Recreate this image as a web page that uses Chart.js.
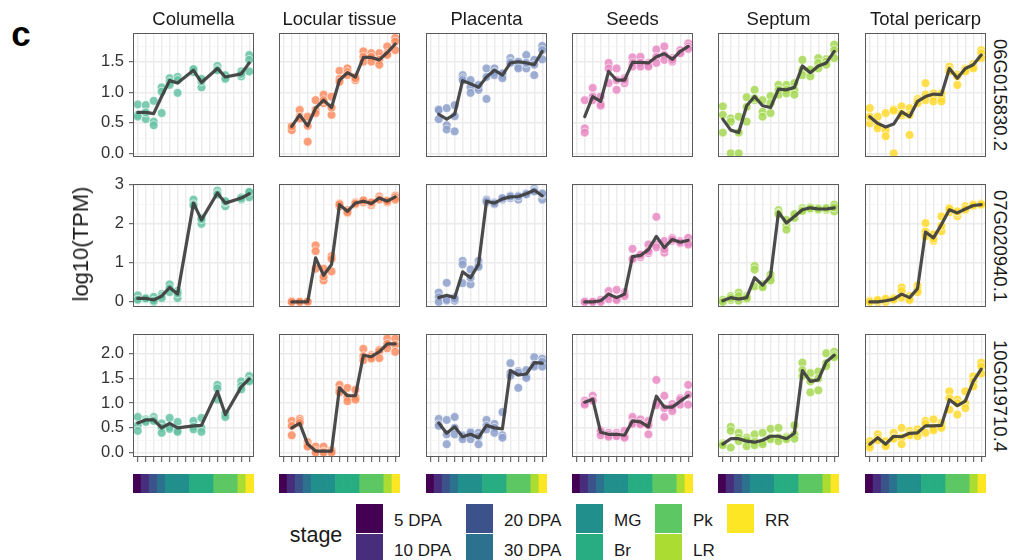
<!DOCTYPE html>
<html>
<head>
<meta charset="utf-8">
<script src="https://cdn.jsdelivr.net/npm/chart.js@4.4.1/dist/chart.umd.min.js"></script>
<style>
  body { margin: 0; background: #fff; font-family: "Liberation Sans", Arial, sans-serif; }
  #fig { position: relative; width: 1015px; height: 560px; overflow: hidden; }
  #fig canvas { position: absolute; }
  .txt { position: absolute; color: #1a1a1a; white-space: nowrap; z-index: 2; line-height: 1; }
  .key { position: absolute; width: 27px; height: 29px; }
</style>
</head>
<body>
<div id="fig"></div>
<script>
// facets
const tissues = ['Columella', 'Locular tissue', 'Placenta', 'Seeds', 'Septum', 'Total pericarp'];
const tissueColors = ['#66C2A5', '#FC8D62', '#8DA0CB', '#E78AC3', '#A6D854', '#FFD92F'];
const genes = ['06G015830.2', '07G020940.1', '10G019710.4'];

// sampling points along the x axis and their stage
const positions = [1, 2, 3, 4, 5, 6, 7, 8, 9, 10, 11, 12, 13, 14, 15];
const stageOfPosition = ['5 DPA', '10 DPA', '20 DPA', '30 DPA', 'MG', 'MG', 'MG', 'Br', 'Br', 'Br', 'Pk', 'Pk', 'Pk', 'LR', 'RR'];
const stageBand = [1, 1, 1, 1, 1, 1, 1, 1, 1, 1, 1, 1, 1, 1, 1];
const stageNames = ['5 DPA', '10 DPA', '20 DPA', '30 DPA', 'MG', 'Br', 'Pk', 'LR', 'RR'];
const stageColors = ['#440154', '#472D7B', '#3B528B', '#2C728E', '#21908C', '#27AD81', '#5DC863', '#AADC32', '#FDE725'];

// y axes, one per gene row
const yRange06 = [-0.06, 1.97];
const yRange07 = [-0.13, 3.02];
const yRange10 = [-0.09, 2.40];
const yMajor06 = [0, 0.5, 1, 1.5];
const yMajor07 = [0, 1, 2, 3];
const yMajor10 = [0, 0.5, 1, 1.5, 2];
const yLabels06 = ['0.0', '0.5', '1.0', '1.5'];
const yLabels07 = ['0', '1', '2', '3'];
const yLabels10 = ['0.0', '0.5', '1.0', '1.5', '2.0'];
const yMinor06 = [0.25, 0.75, 1.25, 1.75];
const yMinor07 = [0.5, 1.5, 2.5];
const yMinor10 = [0.25, 0.75, 1.25, 1.75, 2.25];

// mean line, one row per tissue (null = not sampled)
const mean06 = [
  [0.67, 0.67, 0.65, 0.93, 1.19, 1.15, null, 1.36, 1.16, null, 1.39, 1.25, null, 1.30, 1.48],
  [null, 0.44, 0.63, 0.45, 0.74, 0.87, 0.75, 1.20, 1.32, 1.25, 1.57, 1.57, 1.53, 1.65, 1.79],
  [null, 0.64, 0.56, 0.64, 1.19, 1.14, 1.08, 1.25, 1.36, 1.28, 1.48, 1.50, 1.48, 1.45, 1.67],
  [null, 0.60, 0.93, 0.85, 1.34, 1.20, 1.20, 1.49, 1.49, 1.48, 1.58, 1.63, 1.54, 1.67, 1.75],
  [0.56, 0.38, 0.34, 0.78, 0.93, 0.78, 0.75, 1.05, 1.04, 1.08, 1.43, 1.32, 1.43, 1.48, 1.67],
  [0.60, 0.49, 0.43, 0.48, 0.68, 0.60, 0.85, 0.93, 0.97, 0.96, 1.39, 1.23, 1.39, 1.45, 1.61]
];
const mean07 = [
  [0.09, 0.09, 0.05, 0.15, 0.37, 0.20, null, 2.53, 2.10, null, 2.79, 2.53, null, 2.66, 2.77],
  [null, 0.00, 0.00, 0.00, 1.13, 0.68, 0.96, 2.49, 2.32, 2.53, 2.58, 2.52, 2.66, 2.58, 2.69],
  [null, 0.11, 0.17, 0.11, 0.77, 0.62, 0.96, 2.58, 2.53, 2.64, 2.69, 2.70, 2.77, 2.86, 2.72],
  [null, 0.00, 0.00, 0.03, 0.20, 0.11, 0.20, 1.16, 1.19, 1.34, 1.68, 1.39, 1.60, 1.53, 1.58],
  [0.03, 0.11, 0.07, 0.11, 0.62, 0.43, 0.66, 2.30, 2.02, 2.19, 2.36, 2.41, 2.38, 2.38, 2.41],
  [0.00, 0.00, 0.03, 0.07, 0.20, 0.11, 0.34, 1.79, 1.64, 1.98, 2.36, 2.28, 2.38, 2.47, 2.49]
];
const mean10 = [
  [0.60, 0.66, 0.66, 0.50, 0.59, 0.50, null, 0.54, 0.55, null, 1.24, 0.77, null, 1.33, 1.49],
  [null, 0.50, 0.59, 0.17, 0.03, 0.03, 0.03, 1.31, 1.15, 1.15, 1.97, 1.94, 2.04, 2.20, 2.20],
  [null, 0.60, 0.39, 0.52, 0.32, 0.37, 0.30, 0.55, 0.50, 0.48, 1.66, 1.57, 1.59, 1.82, 1.81],
  [null, 1.02, 1.08, 0.41, 0.37, 0.37, 0.35, 0.64, 0.62, 0.52, 1.14, 0.92, 0.92, 1.04, 1.15],
  [0.17, 0.28, 0.28, 0.23, 0.21, 0.25, 0.33, 0.33, 0.28, 0.39, 1.66, 1.44, 1.47, 1.84, 1.97],
  [0.17, 0.30, 0.17, 0.33, 0.32, 0.39, 0.40, 0.54, 0.54, 0.55, 1.07, 0.95, 1.04, 1.44, 1.69]
];

// replicate samples at each sampling point, one row per tissue
const reps06 = [
  [[0.80,0.63,0.60],[0.79,0.56,0.67],[0.86,0.52,0.46],[1.08,1.01,0.66],[1.23,1.17,1.12],[1.25,0.99,1.20],null,[1.36,1.33,1.38],[1.08,1.18,1.22],null,[1.43,1.38,1.36],[1.25,1.28,1.22],null,[1.26,1.34,1.30],[1.61,1.53,1.34]],
  [null,[0.41,0.38,0.44],[0.71,0.60,0.57],[0.60,0.19,0.45],[0.87,0.71,0.66],[0.96,0.82,0.87],[0.93,0.63,0.75],[1.35,1.22,1.17],[1.39,1.33,1.28],[1.25,1.20,1.23],[1.67,1.58,1.50],[1.64,1.58,1.50],[1.64,1.53,1.45],[1.75,1.64,1.61],[1.89,1.83,1.69]],
  [null,[0.72,0.56,0.71],[0.74,0.46,0.39],[0.79,0.61,0.36],[1.28,1.23,1.20],[1.20,1.08,0.99],[1.08,1.04,1.12],[1.39,1.25,0.89],[1.39,1.33,1.28],[1.28,1.31,1.23],[1.56,1.50,1.48],[1.50,1.42,1.39],[1.61,1.39,1.48],[1.53,1.28,1.45],[1.76,1.69,1.54]],
  [null,[0.87,0.41,0.34],[1.07,0.93,0.87],[0.93,0.81,0.78],[1.48,1.39,1.15],[1.39,1.20,1.04],[1.23,1.15,1.20],[1.57,1.48,1.42],[1.58,1.48,1.42],[1.48,1.45,1.42],[1.70,1.58,1.48],[1.75,1.61,1.53],[1.56,1.50,1.53],[1.69,1.64,1.64],[1.80,1.75,1.71]],
  [[0.77,0.63,0.34],[0.57,0.52,0.00],[0.60,0.34,0.00],[0.92,0.76,0.52],[1.04,0.87,0.90],[0.87,0.68,0.60],[0.94,0.82,0.66],[1.12,1.04,0.96],[1.12,1.04,0.98],[1.15,1.04,0.96],[1.53,1.37,1.28],[1.34,1.26,1.37],[1.56,1.48,1.39],[1.54,1.50,1.45],[1.78,1.69,1.56]],
  [[0.74,0.49,0.60],[0.60,0.46,0.41],[0.66,0.38,0.28],[0.72,0.70,0.00],[0.77,0.62,0.65],[0.74,0.30,0.63],[0.89,0.85,0.82],[1.15,0.96,0.87],[0.98,0.93,0.85],[0.98,0.90,0.85],[1.42,1.37,1.34],[1.29,1.12,1.26],[1.39,1.37,1.34],[1.46,1.42,1.39],[1.69,1.64,1.56]]
];
const reps07 = [
  [[0.17,0.05,0.06],[0.10,0.08,0.09],[0.13,0.00,0.03],[0.20,0.15,0.10],[0.45,0.35,0.25],[0.28,0.10,0.22],null,[2.62,2.50,2.47],[2.00,2.15,2.12],null,[2.85,2.78,2.75],[2.45,2.55,2.58],null,[2.62,2.68,2.65],[2.80,2.68,2.82]],
  [null,[0.02,0.00,0.00],[0.00,0.00,0.00],[0.00,0.00,0.01],[1.45,1.30,0.85],[0.85,0.55,0.65],[1.17,1.10,0.78],[2.52,2.45,2.50],[2.28,2.35,2.30],[2.55,2.50,2.52],[2.58,2.55,2.60],[2.48,2.52,2.55],[2.70,2.65,2.62],[2.60,2.55,2.58],[2.72,2.68,2.62]],
  [null,[0.24,0.12,0.00],[0.49,0.03,0.05],[0.03,0.12,0.08],[1.05,0.96,0.48],[0.83,0.45,0.62],[1.05,0.95,0.90],[2.62,2.55,2.58],[2.50,2.55,2.52],[2.65,2.62,2.66],[2.72,2.66,2.70],[2.62,2.72,2.70],[2.78,2.75,2.76],[2.90,2.85,2.83],[2.62,2.75,2.78]],
  [null,[0.02,0.00,0.00],[0.00,0.01,0.00],[0.03,0.05,0.00],[0.28,0.15,0.07],[0.31,0.07,0.05],[0.25,0.20,0.15],[1.36,1.09,1.10],[1.22,1.15,1.20],[1.47,1.25,1.30],[2.18,1.47,1.40],[1.56,1.26,1.35],[1.64,1.56,1.60],[1.56,1.50,1.53],[1.64,1.51,1.47]],
  [[0.03,0.05,0.00],[0.15,0.05,0.10],[0.24,0.03,0.15],[0.15,0.08,0.10],[0.92,0.83,0.40],[0.45,0.40,0.38],[0.70,0.62,0.55],[2.35,2.28,2.25],[1.96,1.85,2.10],[2.20,2.15,2.25],[2.40,2.35,2.33],[2.42,2.38,2.40],[2.40,2.36,2.38],[2.38,2.36,2.40],[2.49,2.32,2.42]],
  [[0.00,0.03,0.00],[0.02,0.00,0.05],[0.05,0.00,0.08],[0.10,0.05,0.07],[0.37,0.28,0.11],[0.15,0.08,0.05],[0.42,0.32,0.25],[2.02,1.80,1.68],[1.73,1.56,1.62],[2.19,1.81,1.95],[2.40,2.30,2.38],[2.20,2.28,2.32],[2.45,2.35,2.38],[2.50,2.45,2.48],[2.52,2.48,2.50]]
];
const reps10 = [
  [[0.72,0.55,0.44],[0.67,0.64,0.62],[0.72,0.67,0.64],[0.59,0.50,0.40],[0.70,0.52,0.48],[0.62,0.45,0.42],null,[0.64,0.52,0.47],[0.70,0.50,0.42],null,[1.37,1.30,1.07],[0.80,0.78,0.72],null,[1.44,1.35,1.28],[1.55,1.47,1.44]],
  [null,[0.64,0.54,0.35],[0.68,0.64,0.60],[0.21,0.15,0.12],[0.12,0.03,0.00],[0.12,0.02,0.00],[0.05,0.03,0.00],[1.37,1.27,1.22],[1.31,1.12,1.04],[1.27,1.12,1.07],[2.10,1.95,1.87],[1.97,1.94,1.90],[2.08,2.05,1.91],[2.31,2.20,2.11],[2.31,2.18,2.04]],
  [null,[0.68,0.57,0.54],[0.66,0.37,0.17],[0.72,0.50,0.37],[0.35,0.33,0.27],[0.42,0.40,0.27],[0.40,0.33,0.17],[0.66,0.54,0.47],[0.58,0.50,0.40],[0.82,0.35,0.30],[1.81,1.61,1.55],[1.65,1.62,1.31],[1.67,1.55,1.51],[1.93,1.78,1.74],[1.90,1.84,1.74]],
  [null,[1.05,1.00,0.97],[1.15,1.07,1.05],[0.45,0.42,0.35],[0.40,0.36,0.32],[0.40,0.36,0.33],[0.44,0.33,0.30],[0.72,0.60,0.58],[0.67,0.60,0.57],[0.64,0.55,0.37],[1.47,1.00,0.96],[1.15,0.90,0.72],[0.98,0.92,0.84],[1.10,1.07,0.97],[1.37,1.17,0.97]],
  [[0.19,0.17,0.15],[0.52,0.44,0.10],[0.40,0.30,0.23],[0.30,0.25,0.13],[0.37,0.22,0.15],[0.40,0.20,0.17],[0.48,0.30,0.27],[0.50,0.30,0.23],[0.32,0.30,0.27],[0.55,0.37,0.28],[1.82,1.67,1.55],[1.61,1.44,1.22],[1.64,1.50,1.26],[2.01,1.81,1.75],[2.04,1.97,1.93]],
  [[0.23,0.17,0.10],[0.37,0.30,0.25],[0.23,0.15,0.13],[0.40,0.30,0.28],[0.50,0.30,0.17],[0.44,0.38,0.35],[0.47,0.40,0.33],[0.64,0.58,0.40],[0.67,0.50,0.45],[0.60,0.55,0.50],[1.24,1.10,0.87],[1.07,1.00,0.77],[1.24,1.00,0.90],[1.54,1.44,1.34],[1.82,1.74,1.60]]
];

const rows = [
  { mean: mean06, reps: reps06, range: yRange06, major: yMajor06, minor: yMinor06, labels: yLabels06 },
  { mean: mean07, reps: reps07, range: yRange07, major: yMajor07, minor: yMinor07, labels: yLabels07 },
  { mean: mean10, reps: reps10, range: yRange10, major: yMajor10, minor: yMinor10, labels: yLabels10 }
];

// layout (px)
const panelLeft = [133, 279, 426, 572, 718, 865];
const panelTop = [33, 184, 334];
const panelH = [124, 123, 123];
const panelW = 121;
const FONT = '"Liberation Sans", Arial, sans-serif';

Chart.defaults.font.family = FONT;

const fig = document.getElementById('fig');

function hexA(hex, a) {
    const n = parseInt(hex.slice(1), 16);
    return `rgba(${n >> 16}, ${(n >> 8) & 255}, ${n & 255}, ${a})`;
}

// panel border drawn over the plot area, like ggplot's panel.border
const framePlugin = {
    id: 'frame',
    afterDraw(chart) {
        const a = chart.chartArea, c = chart.ctx;
        c.save();
        c.strokeStyle = '#5a5a5a';
        c.lineWidth = 1;
        c.strokeRect(Math.round(a.left) + 0.5, Math.round(a.top) + 0.5,
            Math.round(a.right - a.left) - 1, Math.round(a.bottom - a.top) - 1);
        c.restore();
    }
};

function addCanvas(left, top, w, h) {
    const cv = document.createElement('canvas');
    cv.width = w;
    cv.height = h;
    cv.style.left = left + 'px';
    cv.style.top = top + 'px';
    cv.style.width = w + 'px';
    cv.style.height = h + 'px';
    fig.appendChild(cv);
    return cv;
}

function makePanel(r, k) {
    const row = rows[r];
    // extra room around the first column so the tick labels are not cut
    const lm = k === 0 ? 60 : 1;
    const tm = k === 0 ? 12 : 1;
    const bm = k === 0 ? 12 : (r === 2 ? 8 : 1);
    const w = lm + panelW + 1, h = tm + panelH[r] + bm;
    const cv = addCanvas(panelLeft[k] - lm, panelTop[r] - tm, w, h);

    const pts = [];
    row.reps[k].forEach((trip, i) => {
        if (trip) trip.forEach(v => pts.push({ x: positions[i], y: v }));
    });
    const line = row.mean[k].map((v, i) => ({ x: positions[i], y: v }));
    const yTicks = row.major.concat(row.minor).sort((a, b) => a - b);

    new Chart(cv, {
        type: 'scatter',
        data: {
            datasets: [
                {
                    data: line,
                    showLine: true,
                    spanGaps: true,
                    borderColor: 'rgba(60, 60, 60, 0.92)',
                    borderWidth: 3.2,
                    borderCapStyle: 'round',
                    borderJoinStyle: 'round',
                    pointRadius: 0,
                    order: 0,
                    clip: 0
                },
                {
                    data: pts,
                    backgroundColor: hexA(tissueColors[k], 0.85),
                    borderColor: 'rgba(255, 255, 255, 0.75)',
                    borderWidth: 0.8,
                    pointRadius: 4.4,
                    order: 1,
                    clip: 0
                }
            ]
        },
        options: {
            responsive: false,
            animation: false,
            events: [],
            layout: { autoPadding: false, padding: { left: 0, right: 1, top: tm, bottom: 0 } },
            plugins: { legend: { display: false }, tooltip: { enabled: false } },
            scales: {
                x: {
                    type: 'linear',
                    min: 0.4,
                    max: 15.6,
                    afterBuildTicks: s => { s.ticks = positions.map(v => ({ value: v })); },
                    ticks: { display: false, autoSkip: false },
                    grid: { color: '#EBEBEB', lineWidth: 1.4, drawTicks: r === 2, tickLength: 5, tickColor: '#4d4d4d', tickWidth: 1 },
                    border: { display: false },
                    afterFit: s => { s.height = bm; s.paddingLeft = 0; s.paddingRight = 0; }
                },
                y: {
                    type: 'linear',
                    min: row.range[0],
                    max: row.range[1],
                    afterBuildTicks: s => {
                        s.ticks = yTicks.map(v => ({ value: v, minor: row.minor.includes(v) }));
                    },
                    ticks: {
                        display: k === 0,
                        autoSkip: false,
                        padding: 5,
                        color: '#333333',
                        font: { size: 16.5 },
                        callback: v => {
                            const j = row.major.indexOf(v);
                            return j >= 0 ? row.labels[j] : '';
                        }
                    },
                    grid: {
                        color: c => (c.tick && c.tick.minor ? '#F3F3F3' : '#EBEBEB'),
                        lineWidth: c => (c.tick && c.tick.minor ? 0.8 : 1.4),
                        drawTicks: k === 0,
                        tickLength: 4,
                        tickColor: c => (c.tick && c.tick.minor ? 'rgba(0,0,0,0)' : '#4d4d4d'),
                        tickWidth: 1
                    },
                    border: { display: false },
                    afterFit: s => { s.width = lm; s.paddingTop = 0; s.paddingBottom = 0; }
                }
            }
        },
        plugins: [framePlugin]
    });
}

function makeStageBar(k) {
    const cv = addCanvas(panelLeft[k], 474, panelW, 19);
    new Chart(cv, {
        type: 'bar',
        data: {
            labels: positions,
            datasets: [{
                data: stageBand,
                backgroundColor: stageOfPosition.map(s => stageColors[stageNames.indexOf(s)]),
                borderWidth: 0,
                barPercentage: 1,
                categoryPercentage: 1
            }]
        },
        options: {
            responsive: false,
            animation: false,
            events: [],
            layout: { autoPadding: false, padding: 0 },
            plugins: { legend: { display: false }, tooltip: { enabled: false } },
            scales: {
                x: { display: false },
                y: { display: false, min: 0, max: 1 }
            }
        }
    });
}

function addText(str, x, y, size, extra) {
    const d = document.createElement('div');
    d.className = 'txt';
    d.textContent = str;
    d.style.left = x + 'px';
    d.style.top = y + 'px';
    d.style.fontSize = size + 'px';
    d.style.transform = 'translate(-50%, -50%)' + (extra || '');
    fig.appendChild(d);
    return d;
}

for (let r = 0; r < 3; r++) {
    for (let k = 0; k < 6; k++) makePanel(r, k);
}
for (let k = 0; k < 6; k++) makeStageBar(k);

// strips
tissues.forEach((t, k) => addText(t, panelLeft[k] + panelW / 2, 19, 18.5));
genes.forEach((g, r) => addText(g, 1000, panelTop[r] + panelH[r] / 2, 18.5, ' rotate(90deg)'));

// axis title and panel tag
addText('log10(TPM)', 81, 244, 22, ' rotate(-90deg)');
const tag = addText('c', 21, 33, 35);
tag.style.fontWeight = 'bold';
tag.style.color = '#000';

// stage legend
addText('stage', 316, 536, 21.5);
const keyCols = [356, 466, 576, 655, 727];
stageNames.forEach((s, j) => {
    const kx = keyCols[Math.floor(j / 2)], ky = j % 2 === 0 ? 504 : 534;
    const key = document.createElement('div');
    key.className = 'key';
    key.style.left = kx + 'px';
    key.style.top = ky + 'px';
    key.style.background = stageColors[j];
    fig.appendChild(key);
    const lab = addText(s, kx + 38, ky + 16, 17);
    lab.style.transform = 'translate(0, -50%)';
});
</script>
</body>
</html>
